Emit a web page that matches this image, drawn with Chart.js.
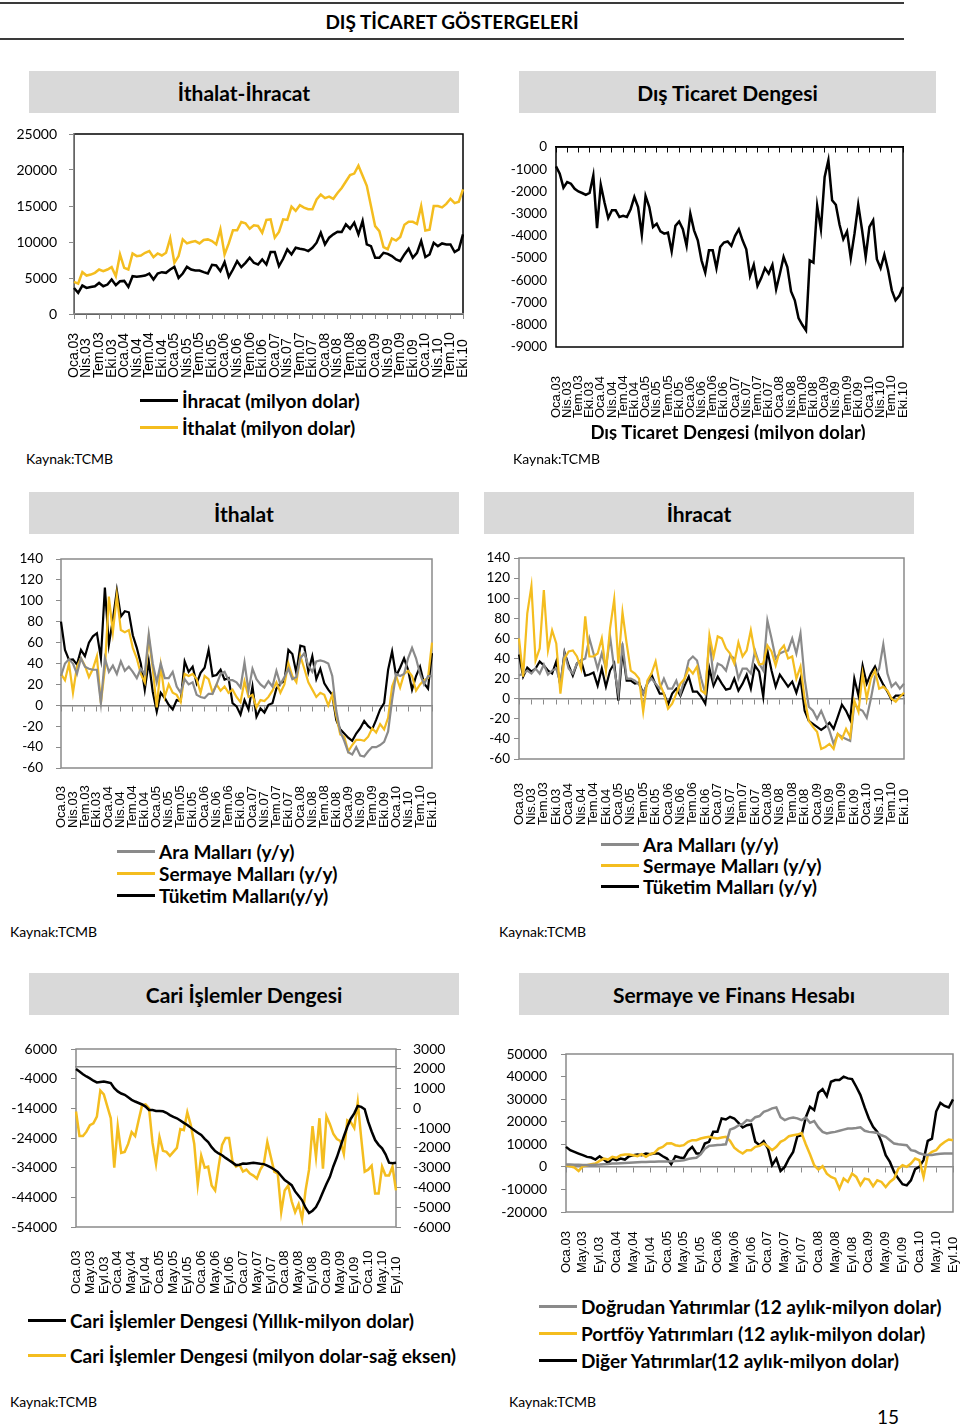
<!DOCTYPE html>
<html lang="tr">
<head>
<meta charset="utf-8">
<title>Dış Ticaret Göstergeleri</title>
<script src="https://cdn.jsdelivr.net/npm/chart.js@4.4.1/dist/chart.umd.min.js"></script>
<style>
  body { margin: 0; background: #fff; }
  #page { position: relative; width: 960px; height: 1427px; overflow: hidden; font-family: Lato, "Open Sans", sans-serif; color: #000; }
  .rule { position: absolute; left: 0; width: 904px; background: #3a3a3a; }
  .title { position: absolute; left: 0; width: 904px; top: 10px; text-align: center; font-weight: bold; font-size: 19px; }
  .hdr { position: absolute; height: 42px; background: #d9d9d9; display: flex; align-items: center; justify-content: center; font-weight: bold; font-size: 21px; }
  .box { position: absolute; }
  .leg { position: absolute; font-weight: bold; font-size: 19px; white-space: nowrap; }
  .leg div { display: flex; align-items: center; }
  .leg span { display: inline-block; width: 38px; height: 3px; margin-right: 4px; }
  .src { position: absolute; font-size: 14px; }
  .cap { position: absolute; left: 528px; width: 400px; top: 421px; height: 19px; overflow: hidden; text-align: center; font-weight: bold; font-size: 18.5px; line-height: 23px; }
</style>
</head>
<body>
<div id="page">
  <div class="rule" style="top:2px;height:2px"></div>
  <div class="title">DIŞ TİCARET GÖSTERGELERİ</div>
  <div class="rule" style="top:38px;height:2px"></div>

  <div class="hdr" style="left:29px;top:71px;width:430px">İthalat-İhracat</div>
  <div class="hdr" style="left:519px;top:71px;width:417px">Dış Ticaret Dengesi</div>
  <div class="box" style="left:0;top:124px;width:472px;height:260px"><canvas id="c1"></canvas></div>
  <div class="box" style="left:490px;top:136px;width:425px;height:286px"><canvas id="c2"></canvas></div>
  <div class="leg" style="left:140px;top:387px">
    <div style="height:27px"><span style="background:#000"></span>İhracat (milyon dolar)</div>
    <div style="height:27px"><span style="background:#f4bd1f"></span>İthalat (milyon dolar)</div>
  </div>
  <div class="cap">Dış Ticaret Dengesi (milyon dolar)</div>
  <div class="src" style="left:26px;top:450px">Kaynak:TCMB</div>
  <div class="src" style="left:513px;top:450px">Kaynak:TCMB</div>

  <div class="hdr" style="left:29px;top:492px;width:430px">İthalat</div>
  <div class="hdr" style="left:484px;top:492px;width:430px">İhracat</div>
  <div class="box" style="left:0;top:549px;width:443px;height:285px"><canvas id="c3"></canvas></div>
  <div class="box" style="left:470px;top:548px;width:445px;height:283px"><canvas id="c4"></canvas></div>
  <div class="leg" style="left:117px;top:840px">
    <div style="height:22px"><span style="background:#8a8a8a"></span>Ara Malları (y/y)</div>
    <div style="height:22px"><span style="background:#f4bd1f"></span>Sermaye Malları (y/y)</div>
    <div style="height:22px"><span style="background:#000"></span>Tüketim Malları(y/y)</div>
  </div>
  <div class="leg" style="left:601px;top:834px">
    <div style="height:21px"><span style="background:#8a8a8a"></span>Ara Malları (y/y)</div>
    <div style="height:21px"><span style="background:#f4bd1f"></span>Sermaye Malları (y/y)</div>
    <div style="height:21px"><span style="background:#000"></span>Tüketim Malları (y/y)</div>
  </div>
  <div class="src" style="left:10px;top:923px">Kaynak:TCMB</div>
  <div class="src" style="left:499px;top:923px">Kaynak:TCMB</div>

  <div class="hdr" style="left:29px;top:973px;width:430px">Cari İşlemler Dengesi</div>
  <div class="hdr" style="left:519px;top:973px;width:430px">Sermaye ve Finans Hesabı</div>
  <div class="box" style="left:0;top:1039px;width:470px;height:260px"><canvas id="c5"></canvas></div>
  <div class="box" style="left:490px;top:1043px;width:470px;height:235px"><canvas id="c6"></canvas></div>
  <div class="leg" style="left:28px;top:1303px">
    <div style="height:35px"><span style="background:#000"></span>Cari İşlemler Dengesi (Yıllık-milyon dolar)</div>
    <div style="height:35px"><span style="background:#f4bd1f"></span>Cari İşlemler Dengesi (milyon dolar-sağ eksen)</div>
  </div>
  <div class="leg" style="left:539px;top:1293px">
    <div style="height:27px"><span style="background:#8a8a8a"></span>Doğrudan Yatırımlar (12 aylık-milyon dolar)</div>
    <div style="height:27px"><span style="background:#f4bd1f"></span>Portföy Yatırımları (12 aylık-milyon dolar)</div>
    <div style="height:27px"><span style="background:#000"></span>Diğer Yatırımlar(12 aylık-milyon dolar)</div>
  </div>
  <div class="src" style="left:10px;top:1393px">Kaynak:TCMB</div>
  <div class="src" style="left:509px;top:1393px">Kaynak:TCMB</div>
  <div style="position:absolute;left:877px;top:1405px;font-size:19px">15</div>
</div>

<script>
// ay etiketleri: Oca.03 ...
const aylar = ['Oca', 'Şub', 'Mar', 'Nis', 'May', 'Haz', 'Tem', 'Ağu', 'Eyl', 'Eki', 'Kas', 'Ara'];
function etiketler(n) {
  const out = [];
  for (let i = 0; i < n; i++) out.push(aylar[i % 12] + '.' + String(3 + Math.floor(i / 12)).padStart(2, '0'));
  return out;
}
const aylik94 = etiketler(94);   // Oca.03 - Eki.10
const aylik93 = etiketler(93);   // Oca.03 - Eyl.10

// İthalat-İhracat (milyon dolar)
const ihracat = [3620, 2930, 3950, 3620, 3760, 3860, 4320, 3860, 4090, 4790, 4000, 4550,
  4600, 3760, 5250, 5160, 5250, 5340, 5620, 4790, 5620, 5810, 5720, 6180,
  6550, 5020, 5620, 6550, 6180, 6040, 6040, 5810, 5620, 6830, 6740, 5950,
  7200, 5160, 6180, 7340, 6510, 7110, 7810, 7110, 6880, 7570, 6880, 8600,
  8600, 6650, 7670, 8970, 8270, 9200, 9060, 8970, 8740, 9200, 9900, 11290,
  9670, 10600, 11060, 11430, 11390, 12450, 11850, 12690, 11060, 12920, 9670, 9430,
  7810, 7810, 8500, 8360, 8040, 7570, 7340, 8270, 9060, 7810, 8500, 10130,
  7900, 8270, 9900, 9430, 9800, 9670, 9670, 8600, 8970, 11060];
const ithalat = [4460, 4230, 5810, 5340, 5480, 5720, 6180, 5950, 6180, 6510, 5250, 8270,
  6410, 6180, 8410, 8040, 8130, 8500, 8740, 7900, 8410, 8130, 8500, 10500,
  7110, 8040, 10360, 9800, 9990, 10130, 9800, 10270, 10360, 10130, 9670, 11760,
  8270, 9800, 11620, 11620, 12780, 12590, 11850, 12310, 12220, 11290, 13060, 13150,
  10600, 11390, 13150, 13060, 14920, 14320, 15110, 14780, 14550, 14550, 15900, 16600,
  16100, 16300, 16000, 16800, 17500, 18400, 19300, 19500, 20600, 19200, 17800, 15000,
  12200, 11500, 9300, 9000, 10500, 10200, 10700, 12400, 12800, 12800, 12500, 15000,
  11600, 11700, 15000, 15000, 14800, 15300, 16000, 15400, 15600, 17300];

// Dış ticaret dengesi (milyon dolar)
const disTicaretDengesi = [-870, -1200, -1830, -1580, -1650, -1880, -2000, -2070, -2150, -2070, -1280, -3650,
  -1700, -2500, -3200, -2850, -2850, -3150, -3100, -3150, -2800, -2250, -2700, -3950,
  -2200, -2700, -3600, -3450, -3800, -3900, -3850, -4700, -3550, -3350, -3700, -4450,
  -3000, -3750, -4200, -5100, -5650, -4650, -4650, -5450, -4500, -4300, -4250, -4450,
  -4000, -3700, -4200, -4600, -5800, -5300, -6250, -5900, -5450, -5700, -5300, -6400,
  -5700, -4950, -5400, -6500, -6900, -7700, -8000, -8250, -5100, -5200, -2650, -3700,
  -1350, -600, -2400, -2600, -3500, -4150, -3800, -5000, -3900, -2600, -3700, -4950,
  -3600, -3300, -5050, -5450, -4850, -5550, -6450, -6900, -6700, -6300];

// İthalat (y/y %)
const ithAra = [28, 40, 44, 40, 30, 45, 37, 35, 34, 34, 2, 45,
  32, 38, 30, 42, 33, 37, 32, 26, 35, 30, 68, 40,
  22, 40, 26, 26, 32, 18, 12, 25, 20, 22, 10, 8,
  7, 11, 11, 20, 30, 32, 24, 24, 22, 17, 41, 14,
  35, 25, 20, 17, 23, 18, 33, 20, 27, 35, 25, 27,
  45, 50, 38, 32, 42, 43, 42, 40, 28, -5, -25, -34,
  -45, -47, -40, -48, -49, -44, -40, -40, -38, -35, -25, 5,
  30, 28, 30, 45, 55, 45, 30, 20, 28, 28];
const ithSermaye = [30, 24, 40, 12, 37, 45, 38, 27, 35, 47, 2, 35,
  104, 70, 105, 72, 70, 72, 55, 45, 30, 22, 65, 35,
  -2, 38, 8, 20, 12, 10, 3, 30, 28, 30, 25, 12,
  28, 25, 12, 20, 14, 18, 12, 15, 8, 3, 23, 8,
  10, -2, 5, 4, 8, 14, 22, 12, 20, 40, 28, 22,
  47, 35, 22, 15, 8, 12, 10, 0, 10, -10, -28, -30,
  -44, -38, -33, -33, -34, -30, -22, -26, -18, -23, -12, 18,
  28, 17, 30, 33, 28, 14, 20, 24, 26, 60];
const ithTuketim = [80, 53, 43.5, 44, 39, 53, 47, 60, 66, 69, 45, 112.6,
  58, 82, 110, 85, 90, 89, 67, 55, 40, 15, 42, 13,
  -6, 12, 7, 0.5, -4, 5, 4, 42, 32, 37, 21, 31,
  36, 53, 28, 29, 34, 24.5, 26, 2, -1, -9, 5, -4,
  18, -11, -3, -7, 0.5, 2, 16, 21, 23, 53, 49, 31,
  57, 56, 32, 47, 25, 35, 21, 15, 10, -14, -23, -27,
  -31, -34, -27, -22, -15, -20, -23, -14, -4, 2, 34, 51.5,
  28, 36, 45, 34, 15, 28, 37, 21, 16, 50];

// İhracat (y/y %)
const ihrAra = [23, 25, 28, 25, 30, 25, 34, 24, 28, 30, 15, 45,
  30, 25, 35, 38, 40, 60, 45, 30, 45, 30, 62, 30,
  5, 55, 20, 20, 18, 14, 5, 15, 20, 15, 10, 20,
  10, 10, 18, 5, 20, 38, 42, 38, 20, 5, 60, 20,
  35, 33, 28, 43, 40, 20, 30, 30, 25, 48, 35, 28,
  78, 60, 40, 45, 47, 48, 60, 45, 65, 20, -8, -12,
  -20, -12, -22, -32, -45, -35, -38, -40, -42, -5, -10, -12,
  -19, 0, 22, 30, 54, 25, 12, 16, 10, 15];
const ihrSermaye = [60, 22, 85, 112, 38, 50, 108, 48, 68, 55, 5, 40,
  47, 48, 42, 30, 82, 42, 42, 45, 60, 28, 70, 99,
  35, 86, 55, 28, 25, 20, -13, 18, 25, 37, 15, 5,
  -10, -5, 5, 15, 20, 30, 25, 32, 8, 5, 63, 42,
  62, 60, 50, 45, 35, 56, 42, 48, 68, 45, 34, 35,
  53, 47, 33, 48, 53, 40, 42, 20, 32, 0, -22, -28,
  -33, -50, -48, -45, -50, -35, -40, -30, -38, -2, -13, 25,
  0, 20, 28, 10, 12, 8, 0, -3, 2, 6];
const ihrTuketim = [44, 22, 31, 27, 30, 37, 33, 28, 25, 37, 13, 46,
  33, 23, 35, 38, 23, 24, 26, 13, 30, 12, 28, 35,
  -2, 48, 18, 18, 15, 16, 5, 15, 24, 14, 5, 5,
  -6, 5, 10, 3, 13, 22, 7, 7, 2, -5, 30, 13,
  22, 15, 9, 10, 20, 8, 15, 24, 10, 33, 27, 2,
  48, 28, 12, 24, 18, 12, 17, 6, 20, -12, -22, -25,
  -28, -31, -28, -24, -30, -18, -6, -12, -21, 20, 3, 33,
  15, 25, 32, 22, 14, 7, -1, 3, 3, 4];

// Cari işlemler dengesi (milyon dolar)
const cariYillik = [-770, -1600, -2500, -3250, -3900, -4700, -5280, -5100, -4940, -5200, -5500, -7200,
  -8300, -9000, -9450, -10300, -11150, -11700, -12200, -12700, -13400, -14530, -14600, -14870,
  -14900, -15000, -15500, -16300, -16900, -17350, -18100, -18900, -19600, -20500, -21400, -22200,
  -22990, -24300, -25400, -27100, -28400, -29200, -29800, -30700, -31500, -32300, -33140, -33000,
  -32600, -32700, -32500, -32350, -32500, -32700, -32800, -33300, -33900, -34600, -35400, -36800,
  -38200, -39000, -39900, -42000, -43500, -45000, -47500, -49300, -48500, -47300, -45000, -42200,
  -39500, -37100, -33500, -30500, -27000, -23500, -20200, -17500, -15700, -13200, -13500, -14300,
  -18500, -21800, -24700, -26300, -27500, -29500, -32300, -32500, -32350];
const cariAylik = [-160, -1400, -1400, -1180, -850, -760, -420, 900, 700, 100, -500, -3000,
  -900, -2250, -2200, -1800, -1200, -1400, -600, 150, 200, 0, -1750, -2800,
  -1450, -2150, -2200, -2400, -2200, -2000, -1050, -1100, -200, -850, -1800, -3850,
  -2400, -3000, -2950, -3900, -4150, -2950, -1850, -1500, -1500, -2700, -2950, -2850,
  -3200, -3100, -3300, -3400, -3550, -3100, -2800, -1700, -2450, -3200, -3300, -5240,
  -4150, -3900, -4700, -5250, -4850, -5600, -4150, -3100, -900, -2450, -500, -3050,
  -400, -800, -1300, -1550, -1650, -2300, -600, -700, -1000, 300, -1500, -3200,
  -3100, -2900, -4300, -4300, -2950, -3400, -3400, -2950, -4150];

// Sermaye ve finans hesabı (12 aylık, milyon dolar)
const dogrudan = [1000, 1000, 900, 900, 800, 800, 800, 900, 1000, 1200, 1300, 1500,
  1500, 1600, 1700, 1800, 1900, 2000, 2100, 2200, 2300, 2300, 2400, 2400,
  2400, 2500, 2600, 2700, 2900, 3500, 3800, 4000, 5500, 8000, 9300, 9500,
  9700, 9800, 10000, 16500, 17200, 18400, 19000, 20700, 20300, 22000, 22500, 24400,
  25000, 25900, 26300, 22000, 20700, 21500, 21900, 21500, 20700, 21800, 19500, 20300,
  17500, 15500, 14800, 15200, 15500, 16000, 16500, 17000, 17000, 17200, 17500, 16000,
  15500, 15300, 15000, 14000, 13300, 11800, 10300, 10000, 9800, 9600, 7400, 7000,
  6000, 5500, 5300, 5300, 5600, 5800, 5900, 5900, 5900];
const portfoy = [720, 270, -320, -1800, 270, 720, 1160, 1460, 2640, 3680, 3230, 4420,
  4000, 5160, 5450, 5450, 5160, 4710, 5600, 4420, 5600, 6200, 8120, 8860,
  10340, 10500, 9600, 9200, 9600, 11080, 11820, 11820, 12560, 13000, 13300, 12850,
  12560, 13000, 13300, 11500, 8500, 7000, 5900, 7380, 7400, 8860, 9300, 10340,
  9000, 7400, 8860, 11080, 12000, 13600, 14000, 14300, 15000, 10000, 5600, 720,
  -1200, 270, -3000, -4460, -5200, -9640, -5200, -6680, -3000, -4460, -8160, -5200,
  -5650, -8600, -5940, -6680, -8900, -6680, -5200, -800, 720, 0, 1460, 3680,
  2940, -4460, 5160, 6640, 7380, 9600, 11000, 12100, 11820];
const diger = [8860, 7380, 6640, 5900, 5160, 4420, 4120, 3230, 4710, 3230, 1750, 3680,
  2940, 3680, 3230, 4710, 5160, 5450, 5160, 5900, 5600, 5900, 5900, 4700,
  3680, 1160, 4710, 4120, 3830, 7080, 8860, 5900, 5900, 10340, 11080, 15520,
  15520, 21440, 20990, 22180, 21440, 19510, 17440, 18480, 18770, 11080, 9600, 11370,
  8120, 720, 3680, -1800, -24, 3680, 6640, 13590, 14040, 21880, 26620, 25140,
  32830, 34460, 31350, 37720, 38460, 38460, 39940, 39200, 38900, 35500, 31800, 26320,
  21440, 17740, 15520, 11080, 5160, 2200, -2240, -5200, -7700, -8200, -6000, -1000,
  0, 3000, 11500, 12500, 24500, 28300, 27000, 26300, 29900];

const SARI = '#f4bd1f', GRI = '#8a8a8a', SIYAH = '#000';
const SEFFAF = 'rgba(0,0,0,0)';

Chart.defaults.animation = false;
Chart.defaults.font.family = 'Lato';
Chart.defaults.color = '#000';
Chart.defaults.plugins.legend.display = false;
Chart.defaults.plugins.tooltip.enabled = false;
Chart.defaults.elements.point.radius = 0;
Chart.defaults.elements.line.tension = 0;

// plot alanının çerçevesi (eksenler üstüne çizilir)
const frame = {
  id: 'frame',
  beforeDraw(chart, args, o) {
    if (!o.color) return;
    const a = chart.chartArea, ctx = chart.ctx;
    ctx.save();
    ctx.strokeStyle = o.color;
    ctx.lineWidth = o.width || 1.5;
    ctx.strokeRect(a.left, a.top, a.right - a.left, a.bottom - a.top);
    ctx.restore();
  }
};
// dik ay etiketleri, alt kenara yaslı (Excel gibi)
const xlab = {
  id: 'xlab',
  afterDraw(chart, args, o) {
    if (!o.step) return;
    const sc = chart.scales.x, ctx = chart.ctx;
    ctx.save();
    ctx.font = o.font;
    ctx.fillStyle = '#000';
    ctx.textAlign = 'left';
    ctx.textBaseline = 'middle';
    chart.data.labels.forEach((lab, i) => {
      if (i % o.step) return;
      ctx.save();
      ctx.translate(sc.getPixelForValue(i), sc.bottom - o.gap);
      ctx.rotate(-Math.PI / 2);
      ctx.fillText(lab, 0, 0);
      ctx.restore();
    });
    ctx.restore();
  }
};
Chart.register(frame, xlab);

function seri(data, color, width, axis) {
  return { data, borderColor: color, backgroundColor: color, borderWidth: width, yAxisID: axis || 'y' };
}

// y ekseninin genişliğini sabitle, etiket payını plot alanına ekleme
function sabitGenislik(w) {
  return s => { s.width = w; s.paddingTop = 0; s.paddingBottom = 0; };
}

function grafik(id, o) {
  const eksen = o.axis || o.frame;
  const every = c => (c.index % o.step ? SEFFAF : eksen);
  const scales = {
    x: {
      ticks: { display: false },
      grid: o.bottomTicks ? { drawOnChartArea: false, tickLength: 5, color: every } : { display: false, drawTicks: false },
      border: o.bottomTicks ? { color: eksen, width: 1.5 } : { display: false },
      afterFit: s => { s.height = o.xHeight; }
    },
    y: {
      min: o.y[0], max: o.y[1],
      ticks: { stepSize: o.y[2], padding: o.yPad, autoSkip: false, font: { size: o.yFont }, callback: v => String(v) },
      grid: o.yTicks ? { drawOnChartArea: false, tickLength: 5, color: eksen } : { display: false, drawTicks: false },
      border: o.axis ? { color: eksen, width: 1.5 } : { display: false },
      afterFit: sabitGenislik(o.yWidth)
    }
  };
  if (o.y1) {
    scales.y1 = {
      position: 'right',
      min: o.y1[0], max: o.y1[1],
      ticks: { stepSize: o.y1[2], padding: o.y1Pad, autoSkip: false, font: { size: o.yFont }, callback: v => String(v) },
      grid: { drawOnChartArea: false, tickLength: 5, color: eksen },
      border: { display: false },
      afterFit: sabitGenislik(o.y1Width)
    };
  }
  if (o.zero) {
    scales.x2 = {
      type: 'category',
      labels: o.labels,
      position: { y: 0 },
      ticks: { display: false, autoSkip: false },
      grid: { drawOnChartArea: false, tickLength: 5, color: o.zeroTicks ? every : SEFFAF },
      border: { color: eksen, width: 1.5 }
    };
  }
  return new Chart(document.getElementById(id), {
    type: 'line',
    data: { labels: o.labels, datasets: o.datasets },
    options: {
      responsive: true,
      maintainAspectRatio: false,
      layout: { padding: { top: o.padTop, right: o.padRight || 0, left: 0, bottom: 0 } },
      scales,
      plugins: {
        frame: { color: o.frame, width: 1.5 },
        xlab: { step: o.step, font: o.xFont, gap: o.gap }
      }
    }
  });
}

grafik('c1', {
  labels: aylik94, step: 3, frame: SIYAH, axis: GRI, bottomTicks: true, yTicks: true,
  y: [0, 25000, 5000], yWidth: 74, yPad: 12, yFont: 14,
  xHeight: 70, padTop: 10, padRight: 9, gap: 6, xFont: '14px "Liberation Sans", Arial, sans-serif',
  datasets: [seri(ihracat, SIYAH, 2.5), seri(ithalat, SARI, 2.5)]
});

grafik('c2', {
  labels: aylik94, step: 3, frame: SIYAH, zero: true, zeroTicks: true,
  y: [-9000, 0, 1000], yWidth: 66, yPad: 9, yFont: 13.5,
  xHeight: 75, padTop: 11, padRight: 12, gap: 4, xFont: '13px "Liberation Sans", Arial, sans-serif',
  datasets: [seri(disTicaretDengesi, SIYAH, 2.5)]
});

grafik('c3', {
  labels: aylik94, step: 3, frame: GRI, zero: true, zeroTicks: true, yTicks: true,
  y: [-60, 140, 20], yWidth: 61, yPad: 13, yFont: 13.5,
  xHeight: 66, padTop: 10, padRight: 11, gap: 6, xFont: '13px "Liberation Sans", Arial, sans-serif',
  datasets: [seri(ithAra, GRI, 2.2), seri(ithSermaye, SARI, 2.2), seri(ithTuketim, SIYAH, 2.2)]
});

grafik('c4', {
  labels: aylik94, step: 3, frame: GRI, zero: true, zeroTicks: true, yTicks: true,
  y: [-60, 140, 20], yWidth: 49, yPad: 4, yFont: 13.5,
  xHeight: 72, padTop: 10, padRight: 11, gap: 6, xFont: '13px "Liberation Sans", Arial, sans-serif',
  datasets: [seri(ihrSermaye, SARI, 2.2), seri(ihrAra, GRI, 2.2), seri(ihrTuketim, SIYAH, 2.2)]
});

grafik('c5', {
  labels: aylik93, step: 4, frame: GRI, zero: true, zeroTicks: false, yTicks: true,
  y: [-54000, 6000, 10000], yWidth: 76, yPad: 14, yFont: 14,
  y1: [-6000, 3000, 1000], y1Width: 74, y1Pad: 12,
  xHeight: 72, padTop: 10, gap: 5, xFont: '13.5px "Liberation Sans", Arial, sans-serif',
  datasets: [seri(cariYillik, SIYAH, 2.5), seri(cariAylik, SARI, 2.5, 'y1')]
});

grafik('c6', {
  labels: aylik93, step: 4, frame: GRI, zero: true, zeroTicks: true, yTicks: true,
  y: [-20000, 50000, 10000], yWidth: 76, yPad: 14, yFont: 14,
  xHeight: 66, padTop: 11, padRight: 7, gap: 5, xFont: '13px "Liberation Sans", Arial, sans-serif',
  datasets: [seri(dogrudan, GRI, 2.5), seri(portfoy, SARI, 2.5), seri(diger, SIYAH, 2.5)]
});
</script>
</body>
</html>
